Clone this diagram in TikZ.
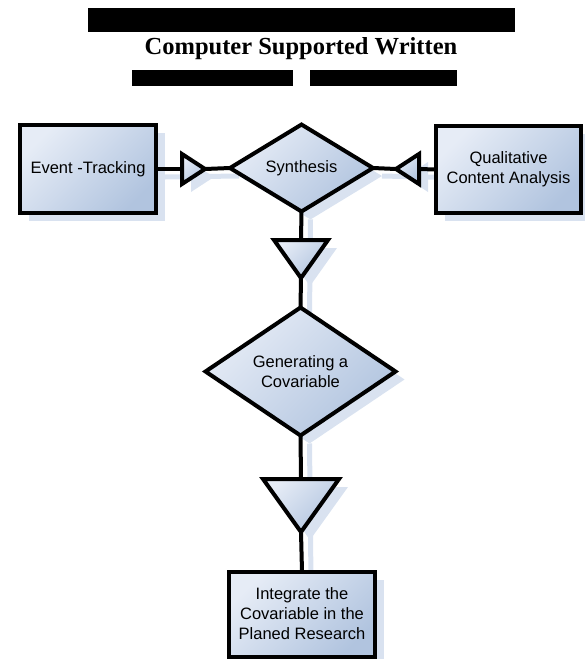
\documentclass[tikz,border=0pt]{standalone}
\usepackage{fontspec}
\setmainfont{Liberation Sans}
\newfontfamily\titlefont{Liberation Serif}
\usetikzlibrary{shapes.geometric,shadows}

\definecolor{boxlight}{HTML}{E6ECF6}
\definecolor{boxdark}{HTML}{B1C4DF}
\definecolor{shade}{HTML}{D9E2F0}

\pgfdeclarelayer{bg}
\pgfsetlayers{bg,main}

\tikzset{
    base/.style={draw=black, line width=4pt, top color=boxlight, bottom color=boxdark,
        shading angle=45, inner sep=0pt, outer sep=0pt, align=center,
        font=\fontsize{16.5}{20}\selectfont,
        drop shadow={shadow xshift=9pt, shadow yshift=-8pt, fill=shade, opacity=1}},
    box/.style={base, rectangle},
    decision/.style={base, diamond},
    flow/.style={base, isosceles triangle, isosceles triangle stretches},
    link/.style={line width=4pt},
    linkshadow/.style={line width=5pt, draw=shade, transform canvas={shift={(9pt,-8pt)}}},
}

\begin{document}
\begin{tikzpicture}[x=1pt, y=-1pt]
        \useasboundingbox (0,0) rectangle (584,659);

        % title
        \fill[black] (88,8) rectangle (515,32);
        \node[font=\titlefont\bfseries\fontsize{24.5}{28}\selectfont] (title) at (301,49) {Computer Supported Written};
        \fill[black] (132,70) rectangle (293,86);
        \fill[black] (310,70) rectangle (457,86);

        % boxes and decisions
        \node[box, minimum width=136pt, minimum height=88pt] (evt) at (88,169) {Event -Tracking};
        \node[decision, minimum width=143pt, minimum height=84pt] (syn) at (301.5,168) {Synthesis};
        \node[box, minimum width=145pt, minimum height=87pt] (qca) at (508.5,169.5) {Qualitative\\Content Analysis};
        \node[decision, minimum width=190pt, minimum height=128pt] (gen) at (300.5,371.5) {Generating a\\Covariable};
        \node[box, minimum width=146pt, minimum height=85pt] (itg) at (302,614) {Integrate the\\Covariable in the\\Planed Research};

        % flow triangles
        \node[flow, shape border rotate=0, minimum width=30pt, minimum height=23pt, anchor=apex] (in1) at (205,169) {};
        \node[flow, shape border rotate=180, minimum width=30pt, minimum height=23pt, anchor=apex] (in2) at (396,169) {};
        \node[flow, shape border rotate=270, minimum width=54pt, minimum height=38pt, anchor=apex] (in3) at (301,278) {};
        \node[flow, shape border rotate=270, minimum width=76pt, minimum height=53pt, anchor=apex] (in4) at (301,532) {};

        % connectors
        \begin{pgfonlayer}{bg}
            \draw[linkshadow] (evt.east) -- (syn.west);
            \draw[linkshadow] (qca.west) -- (syn.east);
            \draw[linkshadow] (syn.south) -- (gen.north);
            \draw[linkshadow] (gen.south) -- (itg.north);
        \end{pgfonlayer}
        \draw[link] (evt.east) -- (in1.west);
        \draw[link] (in1.apex) -- (syn.west);
        \draw[link] (qca.west) -- (in2.east);
        \draw[link] (in2.apex) -- (syn.east);
        \draw[link] (syn.south) -- (in3.north);
        \draw[link] (in3.apex) -- (gen.north);
        \draw[link] (gen.south) -- (in4.north);
        \draw[link] (in4.apex) -- (itg.north);

    \end{tikzpicture}
\end{document}
